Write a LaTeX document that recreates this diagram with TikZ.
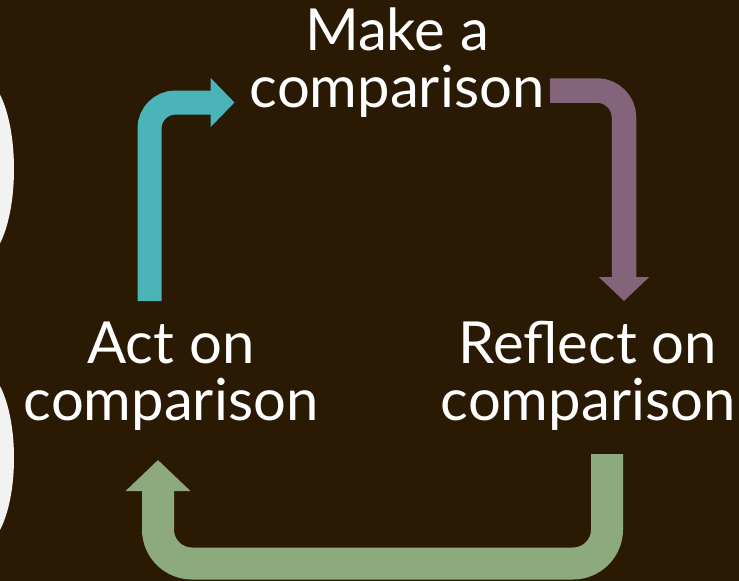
\documentclass[tikz,border=0pt]{standalone}
\usepackage{fontspec}
\setmainfont{Lato}
\usepackage{xcolor}
\usepackage{tikz}
\usetikzlibrary{arrows.meta}
\definecolor{BgBrown}{RGB}{43,26,3}
\definecolor{PaleBlob}{RGB}{242,242,242}
\definecolor{TealArrow}{RGB}{74,180,184}
\definecolor{MauveArrow}{RGB}{132,100,122}
\definecolor{SageArrow}{RGB}{140,170,126}

\begin{document}
\begin{tikzpicture}[x=1pt,y=-1pt,
  phase/.style={text=white,align=center,font=\fontsize{58}{57}\selectfont,inner sep=0pt,anchor=base},
  loop/.style={line cap=butt,line width=#1},
]
\useasboundingbox (0,0) rectangle (739,581);
\fill[BgBrown] (0,0) rectangle (739,581);
\begin{scope}
  \clip (0,0) rectangle (739,581);
  \fill[PaleBlob] (-20,169) ellipse [x radius=34pt,y radius=92pt];
  \fill[PaleBlob] (-20,458) ellipse [x radius=34pt,y radius=89pt];
\end{scope}

% anchor=base sits on the second line
\node[phase] (make) at (397,107) {Make a\\comparison};
\node[phase] (reflect) at (588,420) {Reflect on\\comparison};
\node[phase] (act) at (171,420) {Act on\\comparison};

% free ends of the three bent arrows
\coordinate (actUp) at (149.5,301);
\coordinate (makeIn) at (234.5,102.5);
\coordinate (makeOut) at (550,90.5);
\coordinate (reflectIn) at (624,301);
\coordinate (reflectOut) at (607,454);
\coordinate (actIn) at (158,460);
\coordinate (loopLow) at (382,563.5);

\draw[TealArrow,loop=24pt,rounded corners=26pt,-{Triangle[width=48pt,length=24pt]}]
  (actUp) |- (makeIn);
\draw[MauveArrow,loop=24.5pt,rounded corners=27pt,-{Triangle[width=49pt,length=24pt]}]
  (makeOut) -| (reflectIn);
\draw[SageArrow,loop=32pt,rounded corners=34pt,-{Triangle[width=63pt,length=31pt]}]
  (reflectOut) |- (loopLow) -| (actIn);
\end{tikzpicture}
\end{document}
